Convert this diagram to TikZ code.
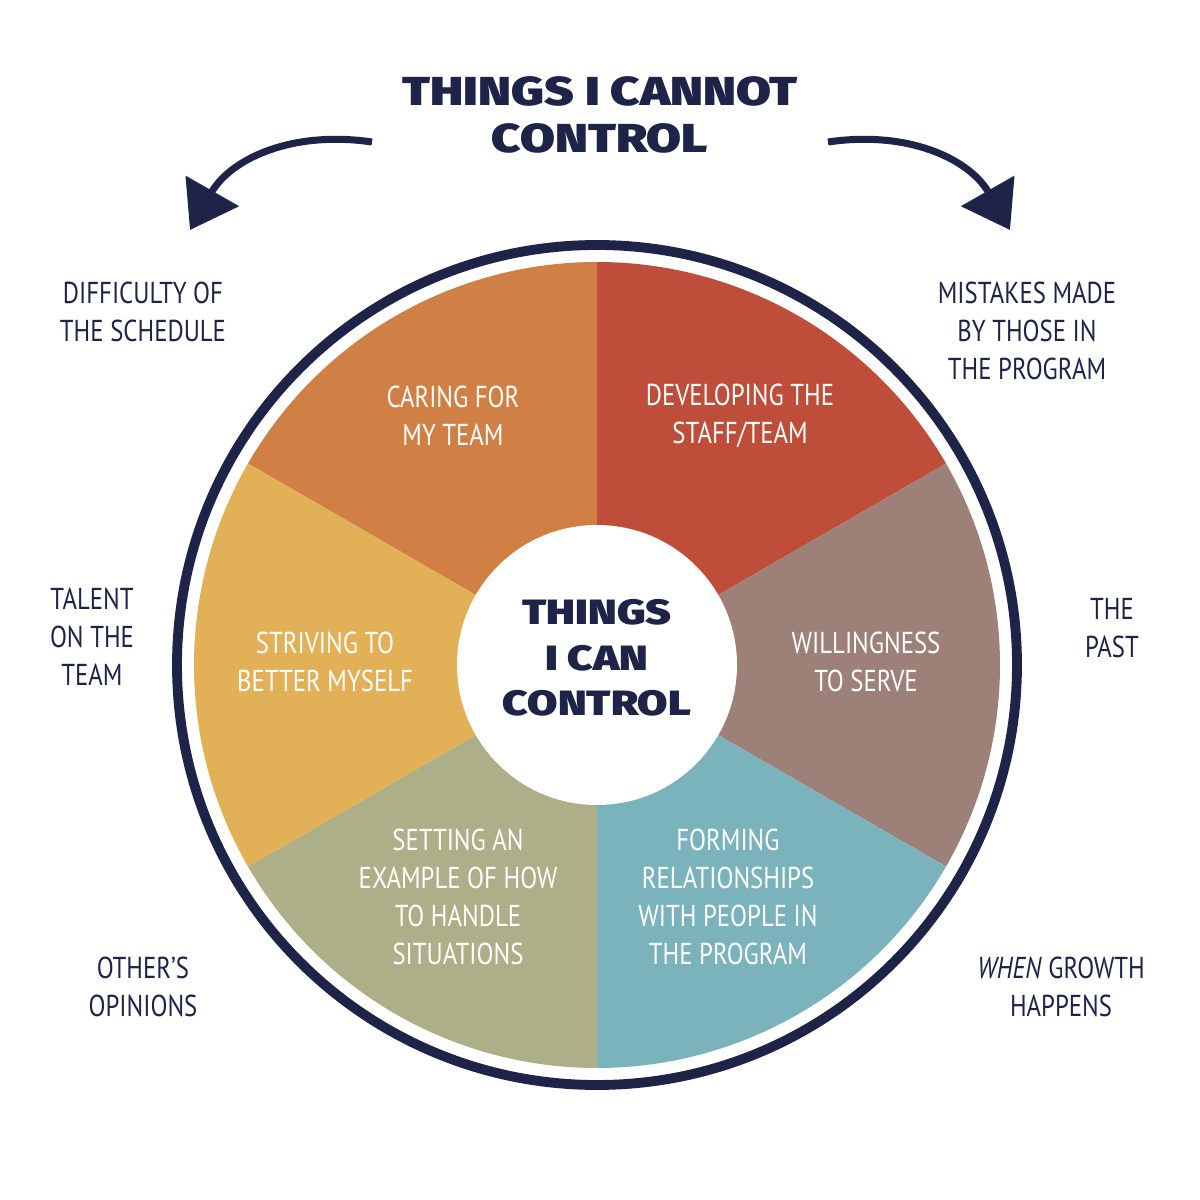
\documentclass[tikz,border=0pt]{standalone}
\usepackage{fontspec}
\setmainfont{PT Sans}[FakeStretch=0.82]
\newfontfamily\titlefont{Fira Sans}[UprightFont={* Black},BoldFont={* Black},FakeStretch=1.25]
\usetikzlibrary{arrows.meta}
\definecolor{navy}{HTML}{1E2447}
\definecolor{cA}{HTML}{D07F45}
\definecolor{cB}{HTML}{BE4E39}
\definecolor{cC}{HTML}{9D8077}
\definecolor{cD}{HTML}{7BB3BC}
\definecolor{cE}{HTML}{ACAF88}
\definecolor{cF}{HTML}{E2B057}
\begin{document}
\begin{tikzpicture}[
  inner/.style={text=white,align=center,font=\fontsize{8.6}{10.8}\selectfont},
  outer/.style={text=navy,align=center,font=\fontsize{8.6}{10.8}\selectfont},
  ttl/.style={text=navy,align=center,font=\titlefont\fontsize{10}{13}\selectfont},
  arr/.style={navy,line width=2pt,-{Triangle[length=0.45cm,width=0.6cm]}}]
\useasboundingbox (0,0) rectangle (12,12);
\coordinate (c) at (5.97,5.35);
\fill[white] (0,0) rectangle (12,12);
\foreach \a/\col in {90/cA,30/cB,-30/cC,-90/cD,-150/cE,150/cF}
  \fill[\col] (c) -- ++(\a:4.03) arc[start angle=\a,delta angle=60,radius=4.03] -- cycle;
\draw[navy,line width=2.8pt] (c) circle[radius=4.2];
\fill[white] (c) circle[radius=1.4];
\node[ttl] (center) at (5.97,5.42) {THINGS\\I CAN\\CONTROL};
\node[ttl,font=\titlefont\fontsize{11.5}{13.5}\selectfont] (title) at (6.0,10.85) {THINGS I CANNOT\\CONTROL};
\node[inner] (n1) at (4.53,7.84) {CARING FOR\\MY TEAM};
\node[inner] (n2) at (7.40,7.84) {DEVELOPING THE\\STAFF/TEAM};
\node[inner] (n3) at (8.66,5.38) {WILLINGNESS\\TO SERVE};
\node[inner] (n4) at (7.28,3.03) {FORMING\\RELATIONSHIPS\\WITH PEOPLE IN\\THE PROGRAM};
\node[inner] (n5) at (4.58,3.03) {SETTING AN\\EXAMPLE OF HOW\\TO HANDLE\\SITUATIONS};
\node[inner] (n6) at (3.25,5.38) {STRIVING TO\\BETTER MYSELF};
\node[outer] (o1) at (1.43,8.88) {DIFFICULTY OF\\THE SCHEDULE};
\node[outer] (o2) at (10.27,8.69) {MISTAKES MADE\\BY THOSE IN\\THE PROGRAM};
\node[outer] (o3) at (0.92,5.63) {TALENT\\ON THE\\TEAM};
\node[outer] (o4) at (11.12,5.72) {THE\\PAST};
\node[outer] (o5) at (1.43,2.13) {OTHER’S\\OPINIONS};
\node[outer] (o6) at (10.61,2.13) {\emph{WHEN} GROWTH\\HAPPENS};
\coordinate (la) at (3.72,10.58);
\coordinate (lb) at (1.9,9.7);
\coordinate (ra) at (8.28,10.58);
\coordinate (rb) at (10.1,9.7);
\draw[arr] (la) .. controls (2.9,10.7) and (2.3,10.4) .. (lb);
\draw[arr] (ra) .. controls (9.1,10.7) and (9.7,10.4) .. (rb);
\end{tikzpicture}
\end{document}
